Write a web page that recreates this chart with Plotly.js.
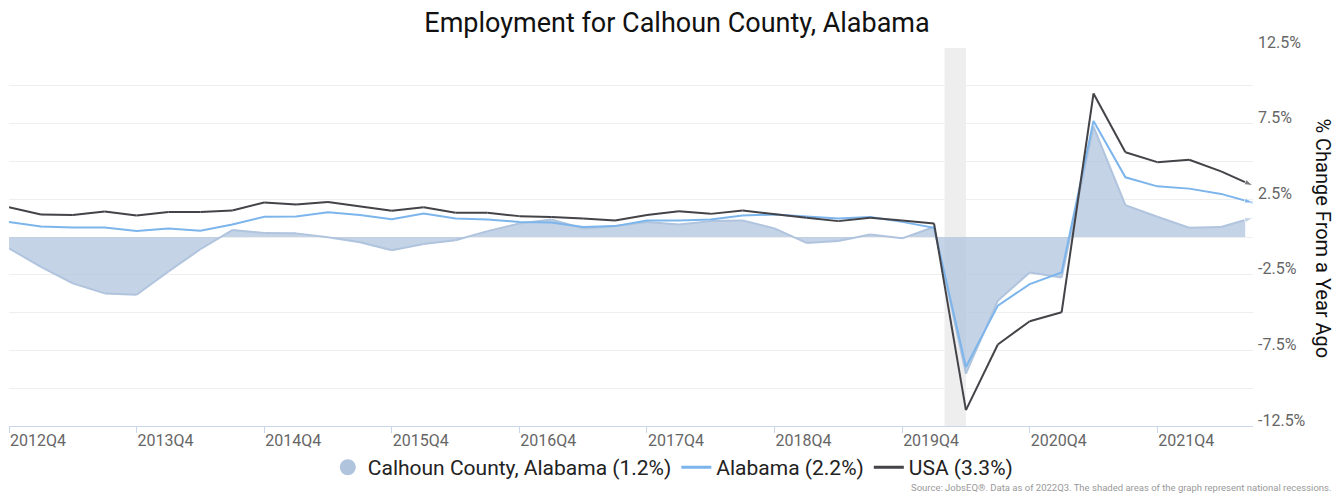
<!DOCTYPE html>
<html>
<head>
<meta charset="utf-8">
<script src="https://cdn.plot.ly/plotly-3.0.1.min.js"></script>
<style>html,body{margin:0;padding:0;background:#fff;}#chart{width:1335px;height:497px;}</style>
</head>
<body>
<div id="chart"></div>
<script>
const quarters = ["2012Q4","2013Q1","2013Q2","2013Q3","2013Q4","2014Q1","2014Q2","2014Q3","2014Q4","2015Q1","2015Q2","2015Q3","2015Q4","2016Q1","2016Q2","2016Q3","2016Q4","2017Q1","2017Q2","2017Q3","2017Q4","2018Q1","2018Q2","2018Q3","2018Q4","2019Q1","2019Q2","2019Q3","2019Q4","2020Q1","2020Q2","2020Q3","2020Q4","2021Q1","2021Q2","2021Q3","2021Q4","2022Q1","2022Q2","2022Q3"];
const calhoun = [-0.75,-1.97,-3.07,-3.73,-3.82,-2.28,-0.81,0.46,0.26,0.24,-0.02,-0.35,-0.88,-0.46,-0.22,0.39,0.89,1.16,0.57,0.72,0.99,0.83,1.05,1.09,0.57,-0.39,-0.26,0.17,-0.09,0.66,-9.04,-4.21,-2.35,-2.68,7.30,2.11,1.34,0.61,0.66,1.27];
const alabama = [1.00,0.70,0.63,0.63,0.39,0.57,0.41,0.83,1.34,1.36,1.64,1.45,1.18,1.55,1.23,1.16,0.99,0.96,0.66,0.72,1.09,1.09,1.16,1.42,1.49,1.38,1.23,1.32,1.00,0.61,-8.60,-4.54,-3.12,-2.35,7.67,3.95,3.35,3.20,2.85,2.26];
const usa = [1.97,1.49,1.45,1.69,1.42,1.66,1.66,1.75,2.28,2.15,2.32,2.01,1.73,1.97,1.60,1.60,1.38,1.32,1.23,1.09,1.45,1.71,1.53,1.75,1.49,1.27,1.05,1.27,1.09,0.90,-11.45,-7.11,-5.57,-4.98,9.49,5.61,4.95,5.11,4.34,3.40];
const seriesNames = ["Calhoun County, Alabama (1.2%)","Alabama (2.2%)","USA (3.3%)"];
const yTickVals = [-12.5,-10,-7.5,-5,-2.5,0,2.5,5,7.5,10,12.5];
const yTickText = ["-12.5%","","-7.5%","","-2.5%","","2.5%","","7.5%","","12.5%"];
const recession = [29.33, 30.0];

const idx = quarters.map((q,i)=>i);
const xTickVals = idx.filter(i => i % 4 === 0);
const xTickText = xTickVals.map(i => quarters[i]);
const n = idx.length;
const endSizes = idx.map(i => i === n-1 ? 9 : 0);

const cCal = '#b0c4de', cAl = '#7cb5ec', cUs = '#434348';

const traces = [
  {x: idx, y: calhoun, type:'scatter', mode:'lines+markers', fill:'tozeroy',
   fillcolor:'rgba(176,196,222,0.75)', line:{color:cCal, width:2},
   marker:{size:endSizes, symbol:'arrow', angleref:'previous', color:cCal},
   cliponaxis:false, showlegend:false, hoverinfo:'skip'},
  {x: idx, y: alabama, type:'scatter', mode:'lines+markers', line:{color:cAl, width:2},
   marker:{size:endSizes, symbol:'arrow', angleref:'previous', color:cAl},
   cliponaxis:false, showlegend:false},
  {x: idx, y: usa, type:'scatter', mode:'lines+markers', line:{color:cUs, width:2},
   marker:{size:endSizes, symbol:'arrow', angleref:'previous', color:cUs},
   cliponaxis:false, showlegend:false},
  {x:[null], y:[null], type:'scatter', mode:'markers', name:seriesNames[0],
   marker:{symbol:'circle', size:19, color:cCal}},
  {x:[null], y:[null], type:'scatter', mode:'lines', name:seriesNames[1],
   line:{color:cAl, width:3}},
  {x:[null], y:[null], type:'scatter', mode:'lines', name:seriesNames[2],
   line:{color:cUs, width:3}}
];

const layout = {
  width:1335, height:497,
  margin:{l:9, r:82, t:48, b:67},
  paper_bgcolor:'#fff', plot_bgcolor:'#fff',
  font:{family:'Roboto, sans-serif', color:'#333'},
  title:{text:'Employment for Calhoun County, Alabama', font:{family:'Roboto, sans-serif', size:27, color:'#111'},
         x:0.537, xref:'paper', xanchor:'center', y:0.955, yref:'container', yanchor:'middle'},
  xaxis:{range:[0, n-1], tickmode:'array', tickvals:xTickVals, ticktext:xTickText,
         showgrid:false, zeroline:false, showline:true, linecolor:'#ccd6eb', linewidth:1,
         ticks:'outside', ticklen:6, tickcolor:'#ccd6eb', ticklabelposition:'outside right',
         tickfont:{family:'Roboto, sans-serif', size:16, color:'#666'}, fixedrange:true},
  yaxis:{side:'right', range:[-12.5,12.5], tickmode:'array', tickvals:yTickVals, ticktext:yTickText,
         showgrid:true, gridcolor:'#eeeeee', gridwidth:1, zeroline:false, showline:false,
         ticks:'', ticklabelposition:'outside', ticklabelshift:-6, ticklabelstandoff:4,
         tickfont:{family:'Roboto, sans-serif', size:16, color:'#666'}, fixedrange:true},
  showlegend:true,
  legend:{orientation:'h', x:0.534, xanchor:'center', y:-0.11, yanchor:'middle',
          font:{family:'Roboto, sans-serif', size:21, color:'#222'}, bgcolor:'rgba(0,0,0,0)'},
  shapes:[{type:'rect', xref:'x', yref:'paper', x0:recession[0], x1:recession[1], y0:0, y1:1,
           fillcolor:'#eeeeee', line:{width:0}, layer:'below'}],
  annotations:[
    {text:'% Change From a Year Ago', xref:'paper', yref:'paper', x:1.056, y:0.497,
     xanchor:'center', yanchor:'middle', textangle:90, showarrow:false,
     font:{family:'Roboto, sans-serif', size:20, color:'#111'}},
    {text:'Source: JobsEQ®. Data as of 2022Q3. The shaded areas of the graph represent national recessions.',
     xref:'paper', yref:'paper', x:1.064, y:-0.162, xanchor:'right', yanchor:'middle', showarrow:false,
     font:{family:'Roboto, sans-serif', size:9.5, color:'#999'}}
  ]
};

Plotly.newPlot('chart', traces, layout, {displayModeBar:false, staticPlot:true});
</script>
</body>
</html>
